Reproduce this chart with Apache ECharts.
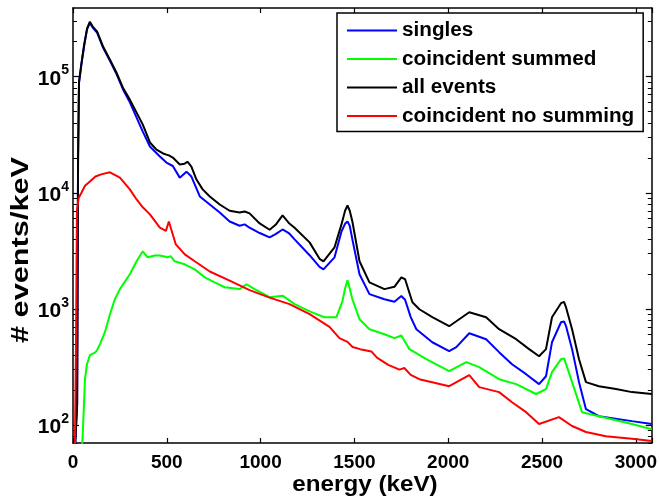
<!DOCTYPE html>
<html><head><meta charset="utf-8">
<script src="https://cdn.jsdelivr.net/npm/echarts@6/dist/echarts.min.js"></script>
<style>html,body{margin:0;padding:0;background:#fff}#c{width:660px;height:497px}</style>
</head><body><div id="c"></div>
<script>
// ---- data ----
const seriesNames = ['singles', 'coincident summed', 'all events', 'coincident no summing'];
const xTicks = [0, 500, 1000, 1500, 2000, 2500, 3000];
const yMajor = [100, 1000, 10000, 100000];

const singlesE = [10,22,27,32,45,60,75,90,105,128,160,197,232,266,303,339,372,410,463,498,532,569,605,631,676,729,782,835,888,915,941,995,1048,1080,1117,1150,1181,1261,1314,1335,1394,1431,1450,1463,1475,1489,1527,1580,1660,1713,1750,1770,1800,1830,1915,2005,2043,2112,2202,2271,2340,2415,2484,2521,2553,2601,2617,2628,2660,2697,2734,2803,2979,3085];
const singlesV = [60,150,19000,88000,128000,187000,255000,290000,265000,240000,178000,137000,105000,78000,60000,44400,33600,25000,20500,18200,17000,13500,15200,13800,9290,7920,6770,5660,5200,5340,5000,4500,4130,4400,4830,4500,3970,2900,2300,2190,2780,4640,5400,5660,5200,3970,1990,1340,1210,1150,1290,1200,850,668,516,432,468,617,548,424,334,274,225,263,516,767,780,709,450,234,137,119,108,102];

const summedE = [48,56,64,74,90,117,128,144,170,197,223,250,303,339,372,398,436,463,505,520,542,595,649,702,755,809,888,925,968,1048,1117,1181,1261,1340,1404,1436,1450,1463,1475,1489,1527,1580,1660,1713,1750,1793,1883,2005,2096,2165,2271,2362,2468,2521,2553,2601,2617,2628,2660,2713,2803,2979,3085];
const summedV = [60,120,250,330,400,420,440,497,630,899,1210,1480,1990,2570,3130,2780,2880,2880,2780,2850,2570,2420,2190,1870,1690,1535,1480,1630,1480,1260,1300,1100,953,848,848,1160,1500,1760,1500,1210,815,668,605,560,590,450,369,291,348,315,248,225,185,204,285,369,375,334,234,129,119,102,92];

const allE = [10,22,27,32,45,60,75,90,105,128,160,197,232,266,303,339,372,410,445,480,498,511,532,569,595,610,631,658,691,729,782,835,888,915,941,995,1048,1080,1117,1150,1181,1261,1314,1335,1394,1431,1450,1463,1475,1489,1527,1580,1660,1713,1750,1770,1809,1846,1915,2005,2043,2112,2202,2271,2362,2431,2484,2521,2553,2601,2617,2628,2660,2697,2734,2803,2894,2979,3085];
const allV = [60,150,20000,90000,130000,190000,260000,297000,270000,245000,182000,140000,108000,80400,63400,49000,38600,27100,23500,21800,21300,21000,20100,17500,17800,18500,16800,13000,10700,9290,7920,7000,6770,6900,6640,5440,4800,5300,6380,5500,5000,3740,2700,2570,3390,5340,7000,7770,7000,5660,2570,1690,1480,1550,1870,1800,1140,993,848,709,782,935,848,668,548,450,391,450,848,1120,1150,1030,668,369,234,216,204,192,185];

const noSumE = [10,16,21,30,45,64,90,120,150,197,250,303,339,372,410,463,495,511,527,548,596,649,729,835,941,1048,1154,1261,1367,1420,1463,1490,1530,1590,1620,1680,1740,1766,1800,1846,2005,2112,2165,2271,2340,2415,2484,2590,2660,2734,2840,2979,3085];
const noSumV = [60,500,7000,9000,10000,11500,12500,13800,14400,15000,13500,10700,8750,7500,6510,5000,4700,5660,4640,3590,2950,2570,2100,1750,1450,1250,1100,900,700,560,520,470,450,430,380,330,300,310,270,248,216,269,212,192,157,129,102,117,98,87,80,76,73];

const colors = ['#0000ff', '#00ff00', '#000000', '#ff0000'];
// ---- end data ----

const FONT = "'Liberation Sans', Arial, sans-serif";
const pair = (E, V) => E.map((e, i) => [e, V[i]]);
const yMinor = [];
[10, 100, 1000, 10000, 100000].forEach(d => { for (let k = 2; k <= 9; k++) yMinor.push(k * d); });

const axisLine = { show: true, lineStyle: { color: '#000', width: 1.5 } };
const xBase = { type: 'value', min: 0, max: 3085, interval: 500, splitLine: { show: false }, axisLine };
const yBase = { type: 'log', logBase: 10, min: 70, max: 390000, splitLine: { show: false }, minorTick: { show: false } };

const chart = echarts.init(document.getElementById('c'), null, { renderer: 'canvas' });
chart.setOption({
  backgroundColor: '#fff',
  animation: false,
  grid: { left: 73, right: 6, top: 8, bottom: 54, containLabel: false },
  legend: {
    data: seriesNames, orient: 'vertical', left: 337, top: 13,
    icon: 'rect', itemWidth: 50, itemHeight: 2, itemGap: 7.5,
    padding: [7, 9, 5, 10], borderColor: '#000', borderWidth: 1.5, borderRadius: 0,
    backgroundColor: '#fff',
    textStyle: { fontSize: 20.7, lineHeight: 19, fontWeight: 'bold', color: '#000', fontFamily: FONT }
  },
  xAxis: [
    Object.assign({}, xBase, {
      position: 'bottom',
      axisTick: { show: true, inside: true, length: 5, lineStyle: { color: '#000', width: 1.2 } },
      axisLabel: { color: '#000', fontSize: 19, fontWeight: 'bold', fontFamily: FONT, margin: 10,
        formatter: v => xTicks.includes(v) ? String(v) : '' }
    }),
    Object.assign({}, xBase, {
      position: 'top',
      axisTick: { show: true, inside: true, length: 5, lineStyle: { color: '#000', width: 1.2 } },
      axisLabel: { show: false }
    })
  ],
  yAxis: [
    Object.assign({}, yBase, {
      position: 'left', axisLine,
      axisTick: { show: true, inside: true, length: 6, customValues: yMajor, lineStyle: { color: '#000', width: 1.2 } },
      axisLabel: { show: true, customValues: yMajor, margin: 4,
        formatter: v => '{b|10}{s|' + Math.round(Math.log10(v)) + '}',
        rich: {
          b: { fontSize: 21, fontWeight: 'bold', color: '#000', fontFamily: FONT, lineHeight: 26, verticalAlign: 'bottom' },
          s: { fontSize: 14, fontWeight: 'bold', color: '#000', fontFamily: FONT, lineHeight: 14, verticalAlign: 'top' }
        } }
    }),
    Object.assign({}, yBase, {
      position: 'left', axisLine: { show: false },
      axisTick: { show: true, inside: true, length: 4, customValues: yMinor, lineStyle: { color: '#000', width: 1 } },
      axisLabel: { show: false }
    }),
    Object.assign({}, yBase, {
      position: 'right', axisLine,
      axisTick: { show: true, inside: true, length: 6, customValues: yMajor, lineStyle: { color: '#000', width: 1.2 } },
      axisLabel: { show: false }
    }),
    Object.assign({}, yBase, {
      position: 'right', axisLine: { show: false },
      axisTick: { show: true, inside: true, length: 4, customValues: yMinor, lineStyle: { color: '#000', width: 1 } },
      axisLabel: { show: false }
    })
  ],
  graphic: [{
    type: 'text', x: 21, y: 250, rotation: Math.PI / 2, scaleX: 1.28, scaleY: 1,
    style: { text: '# events/keV', fill: '#000', font: "bold 24px 'Liberation Sans', Arial, sans-serif",
      align: 'center', verticalAlign: 'middle' }
  }, {
    type: 'text', x: 365, y: 485, scaleX: 1.1, scaleY: 1,
    style: { text: 'energy (keV)', fill: '#000', font: "bold 22px 'Liberation Sans', Arial, sans-serif",
      align: 'center', verticalAlign: 'middle' }
  }],
  series: [
    [singlesE, singlesV], [summedE, summedV], [allE, allV], [noSumE, noSumV]
  ].map((d, i) => ({
    name: seriesNames[i], type: 'line', xAxisIndex: 0, yAxisIndex: 0,
    data: pair(d[0], d[1]), symbol: 'none', showSymbol: false, clip: true,
    lineStyle: { color: colors[i], width: 2 }, itemStyle: { color: colors[i] },
    emphasis: { disabled: true }
  }))
});
</script></body></html>
